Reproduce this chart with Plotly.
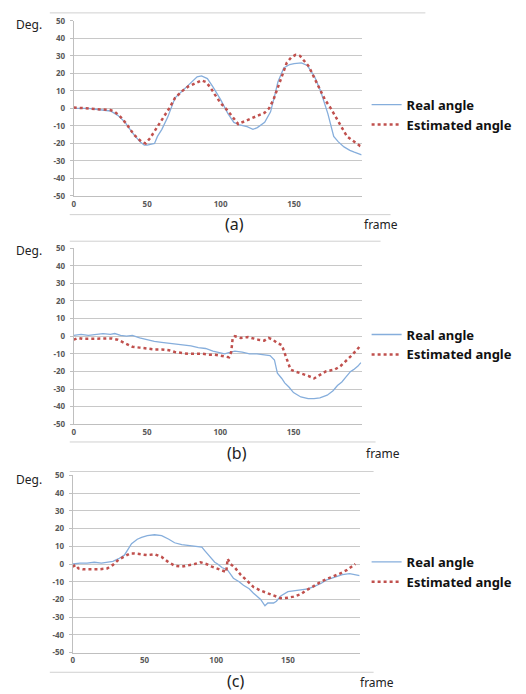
import plotly.graph_objects as go

# ---------------- data ----------------
A_REAL_X = [0,5,10,15,20,25,30,35,40,45,48,50,55,57,60,64,69,75,78,84,87,91,95,98,100,105,109,113,118,122,125,130,134,137,139,143,147,150,155,159,164,168,173,177,180,184,188,191,196]
A_REAL_Y = [0,0,0,-0.5,-1,-1.5,-4,-8,-14,-19,-21,-21,-20,-16,-12,-5,6,11,13,18,18.5,17,12,8,5,-3,-8,-9.5,-10.5,-12,-11,-8,-2,8,15,23,25,25.5,26,24.5,18,10,-3,-16,-19,-22,-24,-25,-26.5]
A_EST_X = [0,10,20,25,28,32,36,41,46,49,52,56,60,65,69,74,78,83,87,90,93,96,100,105,109,112,116,120,125,130,133,136,139,141,145,148,151,154,157,160,164,168,171,175,179,183,186,190,195,197]
A_EST_Y = [0.5,0,-0.5,-1,-2,-5,-9,-15,-19,-20,-17,-12,-7,0,6,10,12.5,14.5,16,15,12,8,3,-1.5,-6,-9,-7.5,-6,-4.5,-2.5,0,5,12,17,26,29,30.5,30,27,24,17,10,5,0,-6,-12,-16,-18.5,-21.5,-22]

B_REAL_X = [0,5,10,15,20,25,28,32,36,40,45,50,55,60,65,70,75,80,85,90,95,100,103,107,110,115,120,125,130,134,137,139,142,144,147,150,155,160,164,168,173,177,180,183,186,189,191,194,196]
B_REAL_Y = [0.5,1,0.5,1,1.5,1,1.5,0.5,0,0.5,-1,-2,-3,-3.5,-4,-4.5,-5,-5.5,-6.5,-7,-8.5,-9.5,-10,-9,-8.5,-9,-10,-10,-10.5,-11,-13.5,-21,-24,-26.5,-29,-32,-34.5,-35.5,-35.5,-35,-33.5,-31,-28,-26,-23,-20,-19,-17,-15]
B_EST_X = [0,3,6,10,15,20,26,30,35,40,45,50,55,60,65,69,74,78,83,88,92,96,100,104,106,107.5,108.5,110,114,119,123,126,130,133,136,139,142,144,146,148,151,155,160,164,168,172,175,178,182,186,189,193,196]
B_EST_Y = [-2,-1,-1.5,-1.5,-1.5,-1.5,-1.3,-2,-4,-6,-6.5,-7,-7.5,-7.5,-8,-9,-9.5,-10,-10,-10,-10.5,-10.5,-11,-11.5,-12,-9,-1,0,-1,-0.5,-1.5,-2,-2.5,-1,-2,-4,-5,-10,-15,-19,-20,-21,-22.5,-24,-22,-20,-19.5,-19,-17,-14,-11.5,-8,-5]

C_REAL_X = [0,5,10,15,20,25,28,32,36,41,45,48,52,57,62,67,71,76,80,84,87,90,92,96,99,101,104,108,112,116,119,123,126,131,134,136,138,140,142,145,150,155,159,164,168,173,177,181,184,188,193,196,200]
C_REAL_Y = [0,0.5,0.5,1,0.5,1,1.5,3,5,11.5,14,15,16,16.5,16,14,12,11,10.5,10,10,9.5,7.6,4,1,0,-2,-3.5,-8,-10,-12,-14,-16.5,-20,-23.6,-22,-22,-22,-21,-18,-15.6,-15,-14.7,-14,-12.8,-11,-9,-8,-7,-6,-5.4,-6,-6.5]
C_EST_X = [0,2,4,7,12,18,24,28,32,36,40,43,47,52,57,62,66,71,76,80,85,89,93,97,101,105,107,108,110,113,117,121,126,131,136,140,145,150,154,159,163,168,173,177,182,186,191,195,197]
C_EST_Y = [-1.5,-0.5,-2.5,-3,-3,-3,-2.5,-0.5,2.5,4.5,6,6,5.5,5,5.5,4,1.5,-1,-1.5,-1,0,1,0,-1.5,-2.6,-4,-4.5,3,0,-2,-6,-9,-13,-15,-16.5,-18,-19.3,-19,-18.4,-17,-14.7,-12.5,-10,-8.5,-7,-5.5,-3.5,-1,0]

X_TICKS = [0, 50, 100, 150]
Y_TICKS = [50, 40, 30, 20, 10, 0, -10, -20, -30, -40, -50]
SERIES_NAMES = ["Real angle", "Estimated angle"]
PANEL_LABELS = ["(a)", "(b)", "(c)"]

W, H = 526, 694
BLUE = "#86aedc"
RED = "#c0504d"
FONT = "Noto Sans"

def px(x):
    return x / W

def py(y):
    return 1 - y / H

# panel geometry in pixels: (left, right, top, bottom, xmax)
panels = [
    (72, 361, 15, 193, 196),
    (72, 361, 246, 425, 196.5),
    (71, 359, 477, 657, 200),
]
data = [
    (A_REAL_X, A_REAL_Y, A_EST_X, A_EST_Y),
    (B_REAL_X, B_REAL_Y, B_EST_X, B_EST_Y),
    (C_REAL_X, C_REAL_Y, C_EST_X, C_EST_Y),
]

fig = go.Figure()
layout = dict(
    width=W, height=H,
    margin=dict(l=0, r=0, t=0, b=0),
    paper_bgcolor="white", plot_bgcolor="white",
    font=dict(family=FONT, color="#222222"),
    annotations=[], shapes=[],
)

legend_centers = [110.5, 344, 575]
deg_y = [19, 248, 481]
lab_pos = [(233, 222), (236, 454), (234, 686)]
frame_pos = [(380, 222), (382, 455), (376, 687)]

def ann(text, x, y, size):
    return dict(text=text, x=px(x), y=py(y), xref="paper", yref="paper",
                xanchor="center", yanchor="middle", showarrow=False,
                font=dict(size=size, color="#222222"))

for i, ((l, r, t, b, xmax), (rx, ry, ex, ey)) in enumerate(zip(panels, data)):
    sfx = "" if i == 0 else str(i + 1)
    xa, ya = "x" + sfx, "y" + sfx
    lg = "legend" + sfx
    fig.add_trace(go.Scatter(x=rx, y=ry, mode="lines", name=SERIES_NAMES[0],
                             line=dict(color=BLUE, width=1.3), xaxis=xa, yaxis=ya, legend=lg))
    fig.add_trace(go.Scatter(x=ex, y=ey, mode="lines", name=SERIES_NAMES[1],
                             line=dict(color=RED, width=2.5, dash="dot"), xaxis=xa, yaxis=ya, legend=lg))
    layout["xaxis" + sfx] = dict(
        domain=[px(l), px(r)], range=[0, xmax], anchor=ya,
        tickvals=X_TICKS, ticktext=[str(v) for v in X_TICKS],
        showgrid=False, zeroline=False, showline=True, linecolor="#bfbfbf", linewidth=1,
        ticks="", tickfont=dict(size=8, color="#595959", family=FONT, weight="bold"),
    )
    layout["yaxis" + sfx] = dict(
        domain=[py(b), py(t)], range=[-50, 50], anchor=xa,
        tickvals=Y_TICKS, ticktext=[str(v) for v in Y_TICKS],
        showgrid=True, gridcolor="#c8c8c8", gridwidth=1, zeroline=False,
        showline=True, linecolor="#bfbfbf", linewidth=1,
        ticks="outside", ticklen=3, tickcolor="#bfbfbf",
        ticklabelstandoff=3,
        tickfont=dict(size=8, color="#595959", family=FONT, weight="bold"),
    )
    layout[lg] = dict(
        x=px(366), y=py(legend_centers[i]), xanchor="left", yanchor="middle",
        bgcolor="rgba(0,0,0,0)", borderwidth=0,
        font=dict(size=13, color="#111111", family=FONT, weight="bold"),
    )
    layout["annotations"].append(ann("Deg.", 27, deg_y[i], 12))
    layout["annotations"].append(ann(PANEL_LABELS[i], lab_pos[i][0], lab_pos[i][1], 16))
    layout["annotations"].append(ann("frame", frame_pos[i][0], frame_pos[i][1], 12))

# faint decorative separator lines (image crop borders)
for (x0, x1, yy) in [(48, 425, 7), (68, 390, 212), (68, 380, 239), (68, 375, 443), (68, 373, 473), (48, 373, 677)]:
    layout["shapes"].append(dict(type="line", xref="paper", yref="paper",
                                 x0=px(x0), x1=px(x1), y0=py(yy), y1=py(yy),
                                 line=dict(color="#d0d0d0", width=1)))

fig.update_layout(**layout)
fig.write_html("out.html", config={"displayModeBar": False},
               post_script="document.body.style.margin='0';document.body.style.padding='0';")
